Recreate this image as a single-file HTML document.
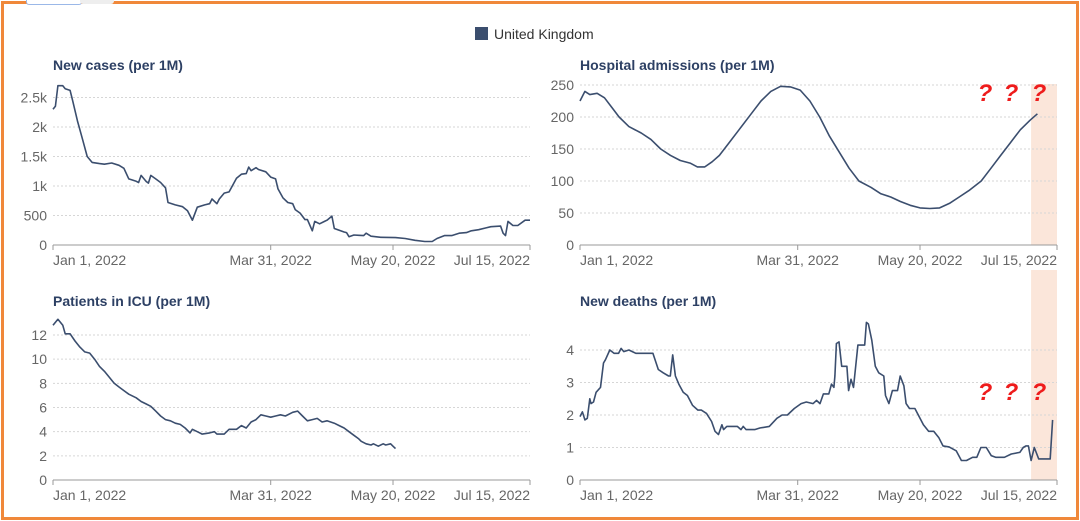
<!DOCTYPE html>
<html><head><meta charset="utf-8">
<style>
html,body{margin:0;padding:0;background:#fff;}
body{width:1080px;height:521px;overflow:hidden;position:relative;font-family:"Liberation Sans",sans-serif;}
#frame{position:absolute;left:1px;top:1px;width:1072px;height:513px;border:3px solid #f0883a;}
#tab{position:absolute;left:26px;top:-1px;width:54px;height:5px;border:1px solid #9bb8e8;border-top:none;border-radius:0 0 3px 3px;background:#fff;}
#tab2{position:absolute;left:80px;top:-1px;width:34px;height:5px;background:#eee;border-radius:0 0 3px 3px;}
svg{position:absolute;left:0;top:0;}
</style></head><body>
<div id="frame"></div>
<div id="tab"></div>
<div id="tab2"></div>
<svg id="svg" width="1080" height="521" xmlns="http://www.w3.org/2000/svg">
  <g>
    <rect x="475" y="27" width="13" height="13" fill="#3b4e6e"/>
    <text x="494" y="39" font-size="14" fill="#333">United Kingdom</text>
  </g>
</svg>
<script>
// ---- data (x = days since Jan 1, 2022) ----
const xTickLabels = ["Jan 1, 2022","Mar 31, 2022","May 20, 2022","Jul 15, 2022"];
const xTickDays = [0, 89, 139, 195];

const casesDays = [0,1,2,4,5,7,8,10,12,14,16,19,21,24,27,29,31,34,35,36,38,39,40,42,44,46,47,50,53,55,57,59,62,64,65,67,68,70,72,75,77,79,80,81,83,84,87,89,91,92,94,96,98,99,101,103,104,106,107,109,111,112,114,115,117,119,120,121,123,125,127,128,130,134,140,144,148,152,155,157,160,163,166,169,171,174,177,179,183,184,185,186,188,190,193,195];
const casesValues = [2300,2350,2700,2700,2650,2620,2450,2100,1800,1500,1400,1380,1370,1390,1350,1300,1120,1080,1060,1180,1080,1050,1180,1120,1060,970,720,680,650,580,420,640,680,700,780,700,780,880,900,1130,1200,1210,1320,1260,1310,1280,1240,1150,1120,950,800,720,700,600,540,430,430,240,400,360,400,420,490,280,250,220,210,140,170,165,160,200,150,130,125,110,80,60,60,110,160,160,200,210,240,260,290,310,320,200,160,400,330,330,420,420];
const casesTicks = [0,500,1000,1500,2000,2500];
const casesTickLabels = ["0","500","1k","1.5k","2k","2.5k"];

const hospDays = [0,2,4,7,10,13,16,20,25,29,33,37,41,45,48,51,54,57,61,65,70,74,78,82,86,90,94,98,102,106,110,114,119,123,127,131,135,139,143,147,151,155,159,164,168,172,176,180,184,187];
const hospValues = [225,240,235,237,230,215,200,185,175,165,150,140,132,128,122,122,130,140,160,180,205,225,240,248,247,242,225,200,170,145,120,100,90,80,75,68,62,58,57,58,65,75,85,100,120,140,160,180,195,205];
const hospTicks = [0,50,100,150,200,250];
const hospTickLabels = ["0","50","100","150","200","250"];

const icuDays = [0,2,4,5,7,9,11,13,15,17,19,21,23,25,27,29,31,34,36,38,40,42,44,46,48,50,52,54,56,57,59,61,64,66,67,70,72,75,77,79,81,83,85,87,89,91,93,95,98,100,102,104,106,108,110,112,115,117,119,121,123,125,126,128,130,131,133,135,136,138,139,140];
const icuValues = [12.8,13.3,12.8,12.1,12.1,11.5,11,10.6,10.5,10,9.4,9,8.5,8,7.7,7.4,7.1,6.8,6.5,6.3,6.1,5.7,5.3,5,4.9,4.7,4.6,4.3,3.9,4.2,4,3.8,3.9,4,3.8,3.8,4.2,4.2,4.5,4.3,4.8,5,5.4,5.3,5.2,5.3,5.4,5.3,5.6,5.7,5.3,4.9,5,5.1,4.8,4.9,4.7,4.5,4.3,4,3.7,3.4,3.2,3,2.9,3,2.8,3,2.9,3,2.8,2.6];
const icuTicks = [0,2,4,6,8,10,12];
const icuTickLabels = ["0","2","4","6","8","10","12"];

const deathDays = [0,1,2,3,4,4.5,5.5,6.6,8.4,9.6,10.4,12.2,13.9,15.8,16.8,17.9,20,21.4,22.8,25.6,28.2,29.8,32,34,36.2,36.9,37.9,39,40.4,42.2,43.9,46,48.2,49.6,51.7,53.8,55.2,56.6,58,58.7,60,64.3,65.8,66.7,67.9,71.4,73.5,77.4,80.5,82.6,84.8,87.6,90.4,92.5,95.3,96.7,98.1,99.5,101.7,102.8,103.8,104.2,104.8,105.9,107,109.1,109.8,110.8,111.8,113.6,116.4,117.1,117.9,119.3,120.7,122.1,124.2,124.9,126.3,127.7,129.8,130.9,132.4,133.3,134.7,136.9,138.3,140.4,142.5,144.6,146.7,148.4,150.9,153.8,155.9,158,160.5,162.2,163.9,166.1,168.1,169.9,173.5,176.3,179.8,181.2,182.3,183.3,184.4,185.7,187.5,192.2,193.2];
const deathValues = [1.95,2.1,1.85,1.9,2.5,2.35,2.4,2.7,2.85,3.6,3.7,4.0,3.9,3.9,4.05,3.95,4.0,3.95,3.9,3.9,3.9,3.9,3.4,3.3,3.2,3.2,3.85,3.2,2.95,2.7,2.6,2.3,2.15,2.15,2.05,1.8,1.5,1.4,1.7,1.55,1.65,1.65,1.55,1.65,1.55,1.55,1.6,1.65,1.9,2.0,2.0,2.2,2.35,2.4,2.35,2.45,2.35,2.65,2.65,2.95,2.85,3.2,4.2,4.25,3.5,3.5,2.75,3.1,2.85,4.15,4.15,4.85,4.8,4.3,3.5,3.3,3.2,2.6,2.35,2.75,2.75,3.2,2.9,2.35,2.2,2.2,2.0,1.7,1.5,1.5,1.3,1.05,1.02,0.9,0.6,0.6,0.7,0.7,1.0,1.0,0.75,0.7,0.7,0.8,0.85,1.0,1.05,1.05,0.6,1.0,0.65,0.65,1.85];
const deathTicks = [0,1,2,3,4];
const deathTickLabels = ["0","1","2","3","4"];

const NS = "http://www.w3.org/2000/svg";
const svg = document.getElementById("svg");
function mk(tag, attrs, parent){
  const e = document.createElementNS(NS, tag);
  for (const k in attrs) e.setAttribute(k, attrs[k]);
  (parent||svg).appendChild(e);
  return e;
}

function chart(cfg){
  const g = mk("g", {});
  
  
  const xS = d => cfg.x0 + (d - 0) / 195 * (cfg.x1 - cfg.x0);
  const yS = v => cfg.y0 - v / cfg.yMax * (cfg.y0 - cfg.yTop);
  if (cfg.shade){
    const r = mk("rect", {x:xS(cfg.shade), y:cfg.shadeTop, width:cfg.x1 - xS(cfg.shade), height:cfg.y0 - cfg.shadeTop, fill:"#fbe6da"}, g);
    
    
  }
  const t = mk("text", {x:cfg.x0, y:cfg.titleY, "font-size":14, "font-weight":"bold", fill:"#2d4064"}, g);
  t.textContent = cfg.title;
  
  
  cfg.ticks.forEach((v,i)=>{
    const y = yS(v);
    if (v > 0){
      const l = mk("line", {x1:cfg.x0, x2:cfg.x1, y1:y, y2:y, stroke:"#d6d6d6", "stroke-dasharray":"2,2"}, g);
      
      
    }
    const tl = mk("text", {x:cfg.x0 - 6, y:y + 5, "font-size":14, fill:"#666", "text-anchor":"end"}, g);
    tl.textContent = cfg.tickLabels[i];
    
    
  });
  const ax = mk("line", {x1:cfg.x0, x2:cfg.x1, y1:cfg.y0, y2:cfg.y0, stroke:"#999"}, g);
  
  
  xTickDays.forEach((d,i)=>{
    const x = xS(d);
    const tk = mk("line", {x1:x, x2:x, y1:cfg.y0, y2:cfg.y0 + 5, stroke:"#999"}, g);
    
    
    const anchor = i === 0 ? "start" : (i === xTickDays.length - 1 ? "end" : "middle");
    const xl = mk("text", {x:x, y:cfg.y0 + 20, "font-size":14, fill:"#666", "text-anchor":anchor}, g);
    xl.textContent = xTickLabels[i];
    
    
  });
  const pts = cfg.days.map((d,i)=> xS(d).toFixed(1) + "," + yS(cfg.values[i]).toFixed(1)).join(" ");
  const p = mk("polyline", {points:pts, fill:"none", stroke:"#3b4e6e", "stroke-width":1.6, "stroke-linejoin":"round"}, g);
  
  
  if (cfg.qY){
    [985, 1011, 1039].forEach(x=>{
      const q = mk("text", {x:x, y:cfg.qY, "font-size":24, "font-weight":"bold", "font-style":"italic", fill:"#ee1c1c", "text-anchor":"middle"}, g);
      q.textContent = "?";
      
      
    });
  }
}

chart({name:"new-cases-chart", title:"New cases (per 1M)", x0:53, x1:530, y0:245, yTop:97.5, yMax:2500, titleY:70,
  days:casesDays, values:casesValues, ticks:casesTicks, tickLabels:casesTickLabels});
chart({name:"hospital-admissions-chart", title:"Hospital admissions (per 1M)", x0:580, x1:1057, y0:245, yTop:85, yMax:250, titleY:70,
  days:hospDays, values:hospValues, ticks:hospTicks, tickLabels:hospTickLabels, shade:184.4, shadeTop:84, qY:101});
chart({name:"icu-patients-chart", title:"Patients in ICU (per 1M)", x0:53, x1:530, y0:480, yTop:335, yMax:12, titleY:306,
  days:icuDays, values:icuValues, ticks:icuTicks, tickLabels:icuTickLabels});
chart({name:"new-deaths-chart", title:"New deaths (per 1M)", x0:580, x1:1057, y0:480, yTop:350, yMax:4, titleY:306,
  days:deathDays, values:deathValues, ticks:deathTicks, tickLabels:deathTickLabels, shade:184.4, shadeTop:270, qY:400});
</script>
</body></html>
